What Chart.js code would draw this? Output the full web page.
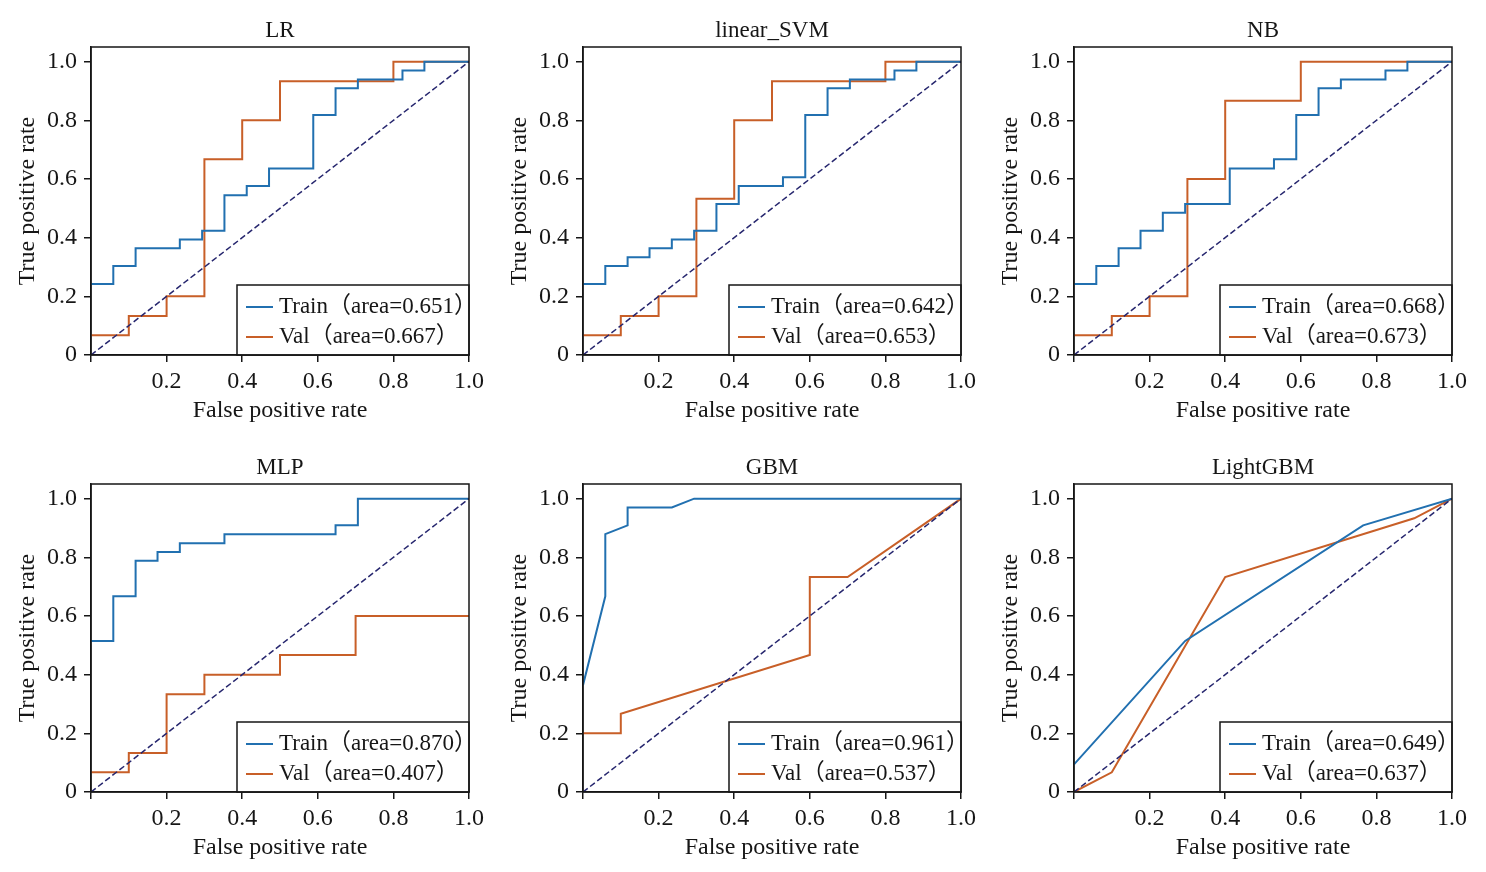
<!DOCTYPE html>
<html>
<head>
<meta charset="utf-8">
<script src="https://cdn.jsdelivr.net/npm/chart.js@4.4.0/dist/chart.umd.min.js"></script>
<style>
  body { margin: 0; background: #fff; width: 1486px; height: 872px; position: relative; overflow: hidden; }
  .panel { position: absolute; width: 489px; height: 425px; }
</style>
</head>
<body>
<div class="panel" style="left:0px;top:0px"><canvas id="c0"></canvas></div>
<div class="panel" style="left:492px;top:0px"><canvas id="c1"></canvas></div>
<div class="panel" style="left:983px;top:0px"><canvas id="c2"></canvas></div>
<div class="panel" style="left:0px;top:437px"><canvas id="c3"></canvas></div>
<div class="panel" style="left:492px;top:437px"><canvas id="c4"></canvas></div>
<div class="panel" style="left:983px;top:437px"><canvas id="c5"></canvas></div>
<script>
const models = ["LR", "linear_SVM", "NB", "MLP", "GBM", "LightGBM"];
const trainAuc = ["0.651", "0.642", "0.668", "0.870", "0.961", "0.649"];
const valAuc = ["0.667", "0.653", "0.673", "0.407", "0.537", "0.637"];
const xTicks = [0, 0.2, 0.4, 0.6, 0.8, 1.0];
const yTicks = [0, 0.2, 0.4, 0.6, 0.8, 1.0];

// ROC corner points (fpr, tpr)
const lrTrainFpr = [0, 0.059, 0.059, 0.118, 0.118, 0.235, 0.235, 0.294, 0.294, 0.353, 0.353, 0.412, 0.412, 0.471, 0.471, 0.588, 0.588, 0.647, 0.647, 0.706, 0.706, 0.824, 0.824, 0.882, 0.882, 1.0];
const lrTrainTpr = [0.242, 0.242, 0.303, 0.303, 0.364, 0.364, 0.394, 0.394, 0.424, 0.424, 0.545, 0.545, 0.576, 0.576, 0.636, 0.636, 0.818, 0.818, 0.909, 0.909, 0.939, 0.939, 0.970, 0.970, 1.0, 1.0];
const lrValFpr = [0, 0.1, 0.1, 0.2, 0.2, 0.3, 0.3, 0.4, 0.4, 0.5, 0.5, 0.8, 0.8, 1.0];
const lrValTpr = [0.067, 0.067, 0.133, 0.133, 0.2, 0.2, 0.667, 0.667, 0.8, 0.8, 0.933, 0.933, 1.0, 1.0];

const svmTrainFpr = [0, 0.059, 0.059, 0.118, 0.118, 0.176, 0.176, 0.235, 0.235, 0.294, 0.294, 0.353, 0.353, 0.412, 0.412, 0.529, 0.529, 0.588, 0.588, 0.647, 0.647, 0.706, 0.706, 0.824, 0.824, 0.882, 0.882, 1.0];
const svmTrainTpr = [0.242, 0.242, 0.303, 0.303, 0.333, 0.333, 0.364, 0.364, 0.394, 0.394, 0.424, 0.424, 0.515, 0.515, 0.576, 0.576, 0.606, 0.606, 0.818, 0.818, 0.909, 0.909, 0.939, 0.939, 0.970, 0.970, 1.0, 1.0];
const svmValFpr = [0, 0.1, 0.1, 0.2, 0.2, 0.3, 0.3, 0.4, 0.4, 0.5, 0.5, 0.8, 0.8, 1.0];
const svmValTpr = [0.067, 0.067, 0.133, 0.133, 0.2, 0.2, 0.533, 0.533, 0.8, 0.8, 0.933, 0.933, 1.0, 1.0];

const nbTrainFpr = [0, 0.059, 0.059, 0.118, 0.118, 0.176, 0.176, 0.235, 0.235, 0.294, 0.294, 0.412, 0.412, 0.529, 0.529, 0.588, 0.588, 0.647, 0.647, 0.706, 0.706, 0.824, 0.824, 0.882, 0.882, 1.0];
const nbTrainTpr = [0.242, 0.242, 0.303, 0.303, 0.364, 0.364, 0.424, 0.424, 0.485, 0.485, 0.515, 0.515, 0.636, 0.636, 0.667, 0.667, 0.818, 0.818, 0.909, 0.909, 0.939, 0.939, 0.970, 0.970, 1.0, 1.0];
const nbValFpr = [0, 0.1, 0.1, 0.2, 0.2, 0.3, 0.3, 0.4, 0.4, 0.6, 0.6, 1.0];
const nbValTpr = [0.067, 0.067, 0.133, 0.133, 0.2, 0.2, 0.6, 0.6, 0.867, 0.867, 1.0, 1.0];

const mlpTrainFpr = [0, 0.059, 0.059, 0.118, 0.118, 0.176, 0.176, 0.235, 0.235, 0.353, 0.353, 0.647, 0.647, 0.706, 0.706, 1.0];
const mlpTrainTpr = [0.515, 0.515, 0.667, 0.667, 0.788, 0.788, 0.818, 0.818, 0.848, 0.848, 0.879, 0.879, 0.909, 0.909, 1.0, 1.0];
const mlpValFpr = [0, 0.1, 0.1, 0.2, 0.2, 0.3, 0.3, 0.5, 0.5, 0.7, 0.7, 1.0];
const mlpValTpr = [0.067, 0.067, 0.133, 0.133, 0.333, 0.333, 0.4, 0.4, 0.467, 0.467, 0.6, 0.6];

const gbmTrainFpr = [0, 0.059, 0.059, 0.118, 0.118, 0.235, 0.294, 1.0];
const gbmTrainTpr = [0.364, 0.667, 0.879, 0.909, 0.970, 0.970, 1.0, 1.0];
const gbmValFpr = [0, 0.1, 0.1, 0.6, 0.6, 0.7, 1.0];
const gbmValTpr = [0.2, 0.2, 0.267, 0.467, 0.733, 0.733, 1.0];

const lgbTrainFpr = [0, 0.294, 0.765, 1.0];
const lgbTrainTpr = [0.094, 0.515, 0.909, 1.0];
const lgbValFpr = [0, 0.1, 0.4, 0.9, 1.0];
const lgbValTpr = [0, 0.067, 0.733, 0.933, 1.0];

const chanceFpr = [0, 1];
const chanceTpr = [0, 1];

const curves = [
  [lrTrainFpr, lrTrainTpr, lrValFpr, lrValTpr],
  [svmTrainFpr, svmTrainTpr, svmValFpr, svmValTpr],
  [nbTrainFpr, nbTrainTpr, nbValFpr, nbValTpr],
  [mlpTrainFpr, mlpTrainTpr, mlpValFpr, mlpValTpr],
  [gbmTrainFpr, gbmTrainTpr, gbmValFpr, gbmValTpr],
  [lgbTrainFpr, lgbTrainTpr, lgbValFpr, lgbValTpr]
];

const FONT = "'Liberation Serif', 'Noto Sans CJK SC', serif";
const INK = '#161616';
const BLUE = '#2170b0';
const ORANGE = '#c85f28';
const NAVY = '#26266e';

Chart.defaults.font.family = FONT;
Chart.defaults.color = INK;

const pts = (xs, ys) => xs.map((x, i) => ({ x: x, y: ys[i] }));

// legend box in the lower right corner of the plot area
const boxLegend = {
  id: 'boxLegend',
  afterDatasetsDraw(chart) {
    const { ctx, chartArea: a } = chart;
    const w = 232, h = 70;
    const left = a.right - w, top = a.bottom - h;
    ctx.save();
    ctx.fillStyle = '#fff';
    ctx.fillRect(left, top, w, h);
    ctx.strokeStyle = INK;
    ctx.lineWidth = 1.5;
    ctx.strokeRect(left, top, w, h);
    chart.data.datasets.filter(d => !d.noLegend).forEach((d, i) => {
      const y = top + 22 + i * 30;
      ctx.strokeStyle = d.borderColor;
      ctx.lineWidth = 2;
      ctx.beginPath();
      ctx.moveTo(left + 9, y);
      ctx.lineTo(left + 36, y);
      ctx.stroke();
      ctx.fillStyle = INK;
      ctx.font = "23px " + FONT;
      ctx.textBaseline = 'middle';
      ctx.fillText(d.label, left + 42, y);
    });
    ctx.restore();
  }
};

// box round the plot area
const frame = {
  id: 'frame',
  afterDraw(chart) {
    const { ctx, chartArea: a } = chart;
    ctx.save();
    ctx.strokeStyle = INK;
    ctx.lineWidth = 1.5;
    ctx.strokeRect(a.left, a.top, a.right - a.left, a.bottom - a.top);
    ctx.restore();
  }
};

models.forEach((name, k) => {
  const c = curves[k];
  new Chart(document.getElementById('c' + k), {
    type: 'line',
    data: {
      datasets: [
        { label: 'chance', noLegend: true, data: pts(chanceFpr, chanceTpr), borderColor: NAVY, borderWidth: 1.5, borderDash: [6, 3], pointRadius: 0 },
        { label: 'Train（area=' + trainAuc[k] + '）', data: pts(c[0], c[1]), borderColor: BLUE, borderWidth: 2, pointRadius: 0 },
        { label: 'Val（area=' + valAuc[k] + '）', data: pts(c[2], c[3]), borderColor: ORANGE, borderWidth: 2, pointRadius: 0 }
      ]
    },
    options: {
      responsive: true,
      maintainAspectRatio: false,
      animation: false,
      layout: { padding: { left: 0, top: 0, right: 20, bottom: 0 } },
      elements: { line: { tension: 0 } },
      plugins: {
        legend: { display: false },
        tooltip: { enabled: false },
        title: {
          display: true,
          fullSize: false,
          text: name,
          color: INK,
          font: { size: 23, weight: 'normal' },
          padding: { top: 17, bottom: 2.4 }
        }
      },
      scales: {
        x: {
          type: 'linear',
          min: 0,
          max: 1,
          afterBuildTicks: s => { s.ticks = xTicks.map(v => ({ value: v })); },
          afterFit: s => { s.height = 70; },
          ticks: {
            callback: v => v === 0 ? '' : v.toFixed(1),
            autoSkip: false,
            maxRotation: 0,
            padding: 5,
            color: INK,
            font: { size: 24 }
          },
          grid: { drawOnChartArea: false, drawTicks: true, tickLength: 7, color: INK, lineWidth: 1.5 },
          border: { display: true, color: INK, width: 1.5 },
          title: { display: true, text: 'False positive rate', color: INK, font: { size: 24 }, padding: { top: 0, bottom: 0 } }
        },
        y: {
          type: 'linear',
          min: 0,
          max: 1.05,
          afterBuildTicks: s => { s.ticks = yTicks.map(v => ({ value: v })); },
          afterFit: s => { s.width = 91; },
          ticks: {
            callback: v => v === 0 ? '0' : v.toFixed(1),
            autoSkip: false,
            padding: 7,
            color: INK,
            font: { size: 24 }
          },
          grid: { drawOnChartArea: false, drawTicks: true, tickLength: 7, color: INK, lineWidth: 1.5 },
          border: { display: true, color: INK, width: 1.5 },
          title: { display: true, text: 'True positive rate', color: INK, font: { size: 24 }, padding: { top: 13, bottom: 0 } }
        }
      }
    },
    plugins: [boxLegend, frame]
  });
});
</script>
</body>
</html>
